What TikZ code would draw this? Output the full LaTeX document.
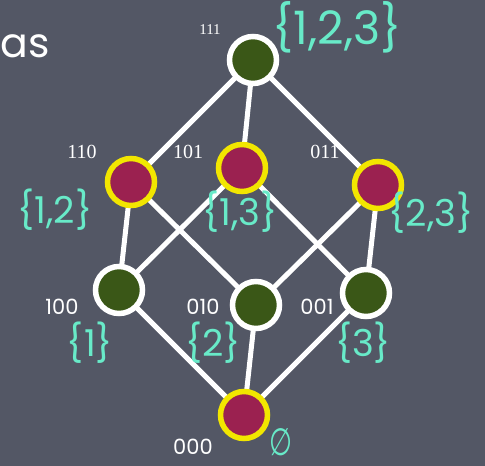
\documentclass[tikz,border=0pt]{standalone}
\usepackage{fontspec}
\newfontfamily\setfont{Poppins}
\newfontfamily\bitserif{Liberation Serif}
\newfontfamily\bitsans{Poppins}
\newfontfamily\symfont{DejaVu Sans}
\definecolor{board}{RGB}{83,87,101}
\definecolor{leafgreen}{RGB}{58,87,23}
\definecolor{berry}{RGB}{155,33,80}
\definecolor{rimyellow}{RGB}{242,230,0}
\definecolor{setcyan}{RGB}{104,234,200}
\tikzset{
  vtx/.style={circle, minimum size=47pt, inner sep=0pt, line width=5.5pt},
  greenvtx/.style={vtx, fill=leafgreen, draw=white},
  redvtx/.style={vtx, fill=berry, draw=rimyellow},
  edge/.style={draw=white, line width=5pt},
  bitlbl/.style={text=white, inner sep=0pt, font=\bitserif\fontsize{20}{20}\selectfont},
  bitlblsans/.style={text=white, inner sep=0pt, font=\bitsans\fontsize{21}{21}\selectfont},
  setlbl/.style={text=setcyan, inner sep=0pt, font=\setfont\fontsize{37}{37}\selectfont},
}
\begin{document}
\begin{tikzpicture}[x=1pt,y=-1pt]
  \fill[board] (0,0) rectangle (485,466);
  \useasboundingbox (0,0) rectangle (485,466);

  % heading fragment
  \node[text=white, inner sep=0pt, anchor=base west, font=\bitsans\fontsize{41}{41}\selectfont] (title) at (0.5,57) {as};

  % vertices of the cube lattice
  \coordinate (p111) at (253,60);
  \coordinate (p110) at (131,182);
  \coordinate (p101) at (242,168);
  \coordinate (p011) at (378,185);
  \coordinate (p100) at (119,290);
  \coordinate (p010) at (256,305);
  \coordinate (p001) at (366,293);
  \coordinate (p000) at (244,415);

  % covering relations
  \draw[edge] (p111) -- (p110);
  \draw[edge] (p111) -- (p101);
  \draw[edge] (p111) -- (p011);
  \draw[edge] (p110) -- (p100);
  \draw[edge] (p110) -- (p010);
  \draw[edge] (p101) -- (p100);
  \draw[edge] (p101) -- (p001);
  \draw[edge] (p011) -- (p010);
  \draw[edge] (p011) -- (p001);
  \draw[edge] (p100) -- (p000);
  \draw[edge] (p010) -- (p000);
  \draw[edge] (p001) -- (p000);

  \node[greenvtx] (n111) at (p111) {};
  \node[redvtx]   (n110) at (p110) {};
  \node[redvtx]   (n101) at (p101) {};
  \node[redvtx]   (n011) at (p011) {};
  \node[greenvtx] (n100) at (p100) {};
  \node[greenvtx] (n010) at (p010) {};
  \node[greenvtx] (n001) at (p001) {};
  \node[redvtx]   (n000) at (p000) {};

  % bit-string labels
  \node[bitlbl, font=\bitserif\fontsize{15}{15}\selectfont] (b111) at (210,30) {111};
  \node[bitlbl] (b110) at (82,152) {110};
  \node[bitlbl] (b101) at (188,152) {101};
  \node[bitlbl] (b011) at (325,152) {011};
  \node[bitlblsans] (b100) at (62,307) {100};
  \node[bitlblsans] (b010) at (203,307) {010};
  \node[bitlblsans] (b001) at (317,307) {001};
  \node[bitlblsans] (b000) at (193,447) {000};

  % subset labels
  \node[setlbl, font=\setfont\fontsize{46}{46}\selectfont] (s123) at (337,27) {\{1,2,3\}};
  \node[setlbl] (s12) at (55,210) {\{1,2\}};
  \node[setlbl] (s13) at (240,212) {\{1,3\}};
  \node[setlbl] (s23) at (431,213) {\{2,3\}};
  \node[setlbl] (s1) at (90,343) {\{1\}};
  \node[setlbl] (s2) at (213,343) {\{2\}};
  \node[setlbl] (s3) at (363,343) {\{3\}};
  \node[text=setcyan, inner sep=0pt, font=\symfont\fontsize{33}{33}\selectfont] (s0) at (281,442) {\scalebox{0.8}[1.15]{∅}};
\end{tikzpicture}
\end{document}
